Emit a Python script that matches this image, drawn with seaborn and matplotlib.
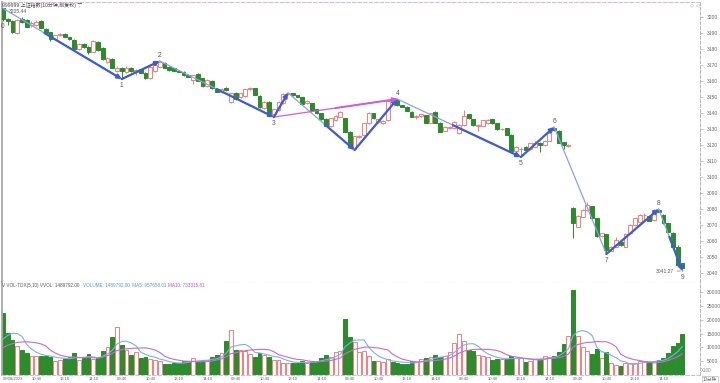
import numpy as np
import pandas as pd
import matplotlib
matplotlib.use("Agg")
import matplotlib.pyplot as plt
import seaborn as sns

# 上证指数 10分钟K线, 6个交易日, 每日24根
opens = [
    3205.4, 3198.5, 3197.7, 3190.0, 3198.5, 3198.1, 3194.8, 3194.8, 3197.7, 3192.7, 3190.4, 3186.0,
    3188.5, 3189.4, 3187.5, 3185.6, 3179.8, 3183.1, 3181.5, 3178.3, 3184.6, 3180.8, 3171.7, 3174.0,
    3166.5, 3168.1, 3165.4, 3168.0, 3165.6, 3167.3, 3165.2, 3161.6, 3166.0, 3169.0, 3171.5, 3169.0,
    3167.9, 3166.5, 3165.8, 3163.75, 3160.5, 3164.4, 3161.7, 3156.9, 3160.2, 3154.8, 3153.3, 3155.4,
    3147.1, 3152.7, 3149.8, 3150.6, 3155.0, 3155.4, 3150.6, 3143.1, 3147.1, 3139.4, 3141.9, 3146.0,
    3152.0, 3152.3, 3151.2, 3149.8, 3146.4, 3146.0, 3142.3, 3139.8, 3136.4, 3131.9, 3135.6, 3137.7,
    3136.7, 3128.3, 3117.3, 3124.8, 3126.2, 3133.5, 3139.8, 3134.6, 3133.5, 3135.6, 3148.3, 3148.1,
    3145.0, 3144.0, 3140.8, 3137.3, 3138.1, 3138.7, 3134.0, 3140.8, 3134.0, 3129.0, 3130.5, 3130.4,
    3127.3, 3132.5, 3139.2, 3136.0, 3132.1, 3132.1, 3133.5, 3136.0, 3133.5, 3129.8, 3130.4, 3126.3,
    3116.3, 3117.3, 3118.9, 3117.3, 3119.0, 3121.5, 3120.0, 3122.7, 3130.6, 3129.0, 3121.9, 3119.4,
    3080.4, 3069.0, 3075.2, 3079.4, 3081.9, 3074.2, 3063.1, 3064.4, 3053.9, 3056.5, 3059.6, 3056.5,
    3065.2, 3070.0, 3072.1, 3076.0, 3075.6, 3073.1, 3079.6, 3076.3, 3071.0, 3065.2, 3056.5, 3046.0,
]
highs = [
    3205.44, 3199.2, 3198.3, 3199.0, 3200.0, 3198.5, 3197.3, 3198.0, 3198.0, 3193.3, 3190.6, 3189.0,
    3190.2, 3189.8, 3187.8, 3186.0, 3183.5, 3183.5, 3182.0, 3185.8, 3185.0, 3181.2, 3175.2, 3174.4,
    3169.4, 3168.5, 3169.4, 3168.5, 3167.5, 3167.7, 3165.6, 3169.6, 3170.4, 3172.5, 3172.0, 3169.4,
    3168.3, 3167.0, 3166.2, 3164.2, 3164.0, 3164.8, 3162.0, 3161.0, 3160.6, 3155.2, 3155.6, 3156.2,
    3152.8, 3153.0, 3152.7, 3155.2, 3156.5, 3155.8, 3151.0, 3147.5, 3147.5, 3142.7, 3147.5, 3152.3,
    3152.6, 3152.5, 3151.5, 3150.1, 3148.2, 3146.3, 3142.6, 3140.1, 3136.7, 3137.0, 3138.5, 3141.2,
    3137.0, 3128.6, 3125.9, 3126.0, 3133.8, 3140.5, 3140.1, 3136.5, 3135.6, 3147.8, 3148.5, 3148.75,
    3145.3, 3144.3, 3141.1, 3138.5, 3139.6, 3139.0, 3140.2, 3141.1, 3134.3, 3131.9, 3131.9, 3135.0,
    3132.9, 3141.9, 3139.5, 3136.3, 3132.9, 3135.9, 3136.0, 3136.3, 3133.8, 3130.6, 3130.7, 3126.6,
    3119.3, 3118.6, 3119.4, 3121.4, 3122.5, 3121.8, 3122.9, 3127.7, 3131.25, 3129.3, 3122.2, 3120.6,
    3081.0, 3076.0, 3079.8, 3084.6, 3082.2, 3074.5, 3065.2, 3064.7, 3056.9, 3062.7, 3059.9, 3064.8,
    3070.6, 3074.6, 3076.7, 3077.3, 3075.9, 3079.8, 3080.0, 3076.6, 3071.3, 3065.5, 3057.5, 3046.3,
]
lows = [
    3197.5, 3195.0, 3190.0, 3189.5, 3196.0, 3193.5, 3194.0, 3194.3, 3193.0, 3189.5, 3185.2, 3185.5,
    3188.3, 3187.3, 3185.8, 3179.5, 3179.3, 3180.6, 3176.9, 3177.9, 3179.0, 3173.2, 3171.0, 3168.0,
    3165.4, 3161.25, 3164.8, 3165.8, 3163.7, 3164.9, 3161.4, 3161.4, 3165.6, 3168.7, 3168.0, 3166.5,
    3166.2, 3165.5, 3163.4, 3162.3, 3158.1, 3159.9, 3156.5, 3156.5, 3155.0, 3153.0, 3152.8, 3154.0,
    3146.0, 3148.2, 3149.4, 3150.2, 3154.6, 3151.0, 3143.2, 3142.7, 3139.9, 3137.5, 3141.5, 3145.6,
    3151.5, 3150.9, 3149.9, 3145.3, 3145.5, 3141.6, 3139.5, 3135.7, 3131.6, 3131.5, 3135.2, 3137.3,
    3128.0, 3119.1, 3116.9, 3124.4, 3125.8, 3133.2, 3136.4, 3134.0, 3133.0, 3135.2, 3146.8, 3144.7,
    3143.7, 3141.2, 3137.4, 3136.4, 3137.8, 3133.7, 3133.6, 3133.7, 3128.0, 3128.6, 3130.1, 3130.0,
    3126.9, 3132.1, 3136.4, 3132.2, 3129.0, 3131.7, 3133.1, 3133.2, 3129.5, 3129.4, 3126.0, 3116.0,
    3115.9, 3112.5, 3116.6, 3116.9, 3118.6, 3115.8, 3119.6, 3122.3, 3129.0, 3121.2, 3117.3, 3119.0,
    3061.7, 3068.6, 3074.8, 3079.0, 3073.9, 3062.8, 3062.7, 3051.9, 3053.5, 3056.1, 3057.2, 3056.1,
    3064.8, 3069.6, 3071.7, 3073.1, 3072.4, 3072.7, 3078.0, 3070.7, 3065.5, 3056.2, 3044.7, 3041.27,
]
closes = [
    3198.5, 3197.7, 3190.4, 3198.1, 3196.9, 3194.0, 3196.5, 3196.9, 3193.3, 3189.8, 3186.5, 3188.7,
    3189.6, 3187.5, 3186.0, 3179.8, 3183.1, 3181.0, 3178.3, 3185.0, 3179.4, 3173.5, 3174.2, 3168.3,
    3168.3, 3166.0, 3168.3, 3166.2, 3166.8, 3165.2, 3161.6, 3169.0, 3170.0, 3172.0, 3168.3, 3166.9,
    3166.5, 3165.8, 3163.75, 3162.7, 3163.5, 3160.2, 3156.9, 3160.6, 3155.4, 3153.3, 3154.8, 3154.4,
    3152.3, 3148.5, 3152.3, 3154.8, 3155.4, 3151.3, 3143.5, 3147.1, 3140.2, 3142.3, 3147.1, 3151.9,
    3152.4, 3151.2, 3150.2, 3145.6, 3147.5, 3141.9, 3139.8, 3136.0, 3131.9, 3136.7, 3138.1, 3140.8,
    3128.3, 3119.4, 3125.6, 3125.6, 3133.5, 3140.2, 3136.7, 3136.0, 3135.2, 3147.5, 3147.1, 3145.0,
    3144.0, 3141.5, 3137.7, 3138.1, 3139.2, 3134.0, 3139.8, 3134.0, 3128.3, 3131.5, 3131.5, 3134.6,
    3132.5, 3138.1, 3136.7, 3132.5, 3132.5, 3135.6, 3135.6, 3133.5, 3129.8, 3130.2, 3126.3, 3116.3,
    3118.9, 3117.3, 3116.9, 3121.0, 3121.5, 3120.0, 3122.5, 3127.3, 3129.4, 3121.5, 3120.2, 3120.2,
    3071.0, 3075.6, 3079.4, 3082.5, 3074.2, 3063.1, 3064.8, 3054.4, 3056.5, 3060.6, 3057.5, 3064.4,
    3070.2, 3074.2, 3076.3, 3076.3, 3072.7, 3079.4, 3078.3, 3071.0, 3065.8, 3056.5, 3045.0, 3043.0,
]
volumes = [
    22300, 15300, 12650, 10600, 9000, 7800, 6900, 6900, 6900, 6900, 6600, 5100,
    5400, 6000, 6400, 8000, 5400, 6000, 7600, 5700, 6000, 8700, 10200, 13900,
    17200, 10800, 9000, 7200, 8400, 6000, 6600, 5700, 5400, 5100, 4000, 3900,
    4200, 4400, 5200, 5000, 6000, 4800, 5400, 5400, 6600, 7200, 8000, 12300,
    16300, 9000, 9000, 8700, 7600, 6600, 8000, 7200, 6400, 5400, 5400, 4500,
    4200, 4200, 4500, 5200, 4500, 4800, 4800, 6300, 7200, 6600, 8400, 8700,
    20200, 13900, 12000, 8400, 8700, 7000, 5200, 5100, 4600, 5700, 4800, 4200,
    4000, 4000, 5100, 4800, 5700, 6300, 6400, 7200, 6600, 6900, 8400, 11700,
    14800, 12300, 9000, 8800, 7200, 6900, 6600, 5400, 5700, 5700, 5900, 6900,
    6000, 6000, 4800, 5100, 5700, 5700, 6900, 6600, 6900, 8400, 11100, 14100,
    30700, 14100, 10200, 8800, 7600, 9300, 6000, 8400, 4200, 3600, 3300, 4200,
    4200, 4200, 5100, 5100, 4800, 5100, 5400, 6300, 8100, 10500, 11700, 14898,
]
# 前一交易日尾盘成交量 (只用于均线, 不画柱)
prev_volumes = [6500, 7000, 6000, 7500, 7000, 8500, 9000, 11000, 14000]
time_labels = ["09/08/2023", "10:40", "13:10", "14:10"] + ["09:40", "10:40", "13:10", "14:10"] * 5

# zigzag 转折点 (K线序号)
wave_idx = [0, 25, 33, 57, 83, 109, 116, 127, 138, 143]
wave_top = [True, False, True, False, True, False, True, False, True, False]
sub_idx = [57, 60, 74, 83]  # 3-4 之间的小级别

df = pd.DataFrame({"open": opens, "high": highs, "low": lows, "close": closes, "vol": volumes})
df["i"] = np.arange(len(df))
allvol = pd.Series(prev_volumes + volumes)
df["ma5"] = allvol.rolling(5, min_periods=1).mean().iloc[len(prev_volumes):].to_numpy()
df["ma10"] = allvol.rolling(10, min_periods=1).mean().iloc[len(prev_volumes):].to_numpy()

sns.set_theme(style="white")
plt.rcParams["font.family"] = ["Liberation Sans", "Noto Sans CJK SC", "DejaVu Sans"]

RED = "#f77b7b"
GREEN = "#2a8c2a"
GREY = "#9a9a9a"
LAV = "#cbbde6"
BLUE = "#3b5bdf"
LBLUE = "#86a2f2"
MAG = "#d35ad8"

fig = plt.figure(figsize=(7.2, 3.83), dpi=100)
fig.patch.set_facecolor("white")
axp = fig.add_axes([2 / 720, 1 - 282 / 383, 698 / 720, 280 / 383])
axv = fig.add_axes([2 / 720, 1 - 375 / 383, 698 / 720, 93 / 383], sharex=axp)

up = df["close"] > df["open"]
flat = df["close"] == df["open"]
edge = np.where(flat, GREY, np.where(up, RED, GREEN))
face = np.where(up | flat, "white", GREEN)

# K线
axp.vlines(df["i"], df["low"], df["high"], colors=edge, linewidth=0.7, zorder=2)
body = (df["close"] - df["open"]).abs().clip(lower=0.15)
axp.bar(df["i"], body, bottom=df[["open", "close"]].min(axis=1), width=0.8,
        color=face, edgecolor=edge, linewidth=0.7, zorder=3)

# 成交量
axv.bar(df["i"], df["vol"], width=0.82, color=face, edgecolor=edge, linewidth=0.7, zorder=2)
sns.lineplot(x=df["i"], y=df["ma5"], ax=axv, color="#74b4ee", linewidth=0.8, zorder=3)
sns.lineplot(x=df["i"], y=df["ma10"], ax=axv, color="#c96ad2", linewidth=0.8, zorder=3)


def pivot_price(i, top):
    return highs[i] if top else lows[i]


def seg(i0, p0, i1, p1, thick_from, color_thin, color_thick):
    axp.plot([i0, i1], [p0, p1], color=color_thin, linewidth=0.9, zorder=4)
    if thick_from < 1:
        xs = i0 + (i1 - i0) * thick_from
        ys = p0 + (p1 - p0) * thick_from
        axp.annotate("", xy=(i1, p1), xytext=(xs, ys),
                     arrowprops=dict(arrowstyle="-|>", color=color_thick, lw=1.6,
                                     mutation_scale=6, shrinkA=0, shrinkB=0), zorder=5)


thick_start = [0.35, 0.0, 0.5, None, 0.45, 0.0, 1.0, 0.0, 0.45]
for k in range(len(wave_idx) - 1):
    a, b = wave_idx[k], wave_idx[k + 1]
    pa, pb = pivot_price(a, wave_top[k]), pivot_price(b, wave_top[k + 1])
    if thick_start[k] is None:
        continue
    seg(a, pa, b, pb, thick_start[k], LBLUE, BLUE)

# 3 -> 4 的小级别波段
sub_top = [False, True, False, True]
sub_thick = [0.0, 0.55, 0.0]
for k in range(3):
    a, b = sub_idx[k], sub_idx[k + 1]
    seg(a, pivot_price(a, sub_top[k]), b, pivot_price(b, sub_top[k + 1]), sub_thick[k], LBLUE, BLUE)

# 3 -> 4 紫线
axp.plot([57, 83], [lows[57], highs[83]], color=MAG, linewidth=0.9, zorder=4)
axp.annotate("", xy=(83, highs[83]), xytext=(70, (lows[57] + highs[83]) / 2),
             arrowprops=dict(arrowstyle="-|>", color=MAG, lw=1.4, mutation_scale=6,
                             shrinkA=0, shrinkB=0), zorder=5)

for n, (i, top) in enumerate(zip(wave_idx, wave_top)):
    if n == 0:
        axp.text(-0.1, 3193.8, "0", fontsize=4.8, color="#555555", ha="center", va="center")
        continue
    p = pivot_price(i, top)
    axp.text(i, p + (3.7 if top else -3.9), str(n), fontsize=4.8, color="#555555",
             ha="center", va="center", zorder=6)

axp.annotate("3205.44", xy=(0.3, 3205.44), xytext=(1.2, 3203.7), fontsize=3.6, color="#555555",
             va="center", ha="left",
             arrowprops=dict(arrowstyle="-", color="#777777", lw=0.5, shrinkA=0, shrinkB=0))
axp.annotate("3041.27", xy=(142.6, 3041.27), xytext=(141.2, 3041.27), fontsize=3.6, color="#555555",
             va="center", ha="right",
             arrowprops=dict(arrowstyle="-", color="#777777", lw=0.5, shrinkA=0, shrinkB=0))

# 坐标轴
axp.set_xlim(-0.2, 146.7)
axp.set_ylim(3034.4, 3209.4)
axv.set_ylim(0, 33620)

for ax in (axp, axv):
    ax.set_facecolor("white")
    ax.spines["left"].set_color("#a8a8a8")
    ax.spines["left"].set_linewidth(1.3)
    ax.spines["right"].set_color("#b5b5b5")
    ax.spines["right"].set_linestyle((0, (3, 2)))
    ax.spines["right"].set_linewidth(0.7)
    for s in ("top", "bottom"):
        ax.spines[s].set_color(LAV)
        ax.spines[s].set_linestyle((0, (3, 2)))
        ax.spines[s].set_linewidth(0.8)
    ax.yaxis.tick_right()
    ax.tick_params(axis="y", which="both", direction="out", length=2, width=0.5,
                   colors="#b0b0b0", labelcolor="#666666", labelsize=3.6, pad=3)
    ax.set_xlabel("")
    ax.set_ylabel("")
axv.spines["top"].set_visible(False)

axp.set_yticks(np.arange(3040, 3201, 10))
axp.tick_params(axis="x", bottom=False, labelbottom=False)
axv.set_yticks(np.arange(5000, 30001, 5000))

axv.set_xticks(np.arange(0, 144, 6))
axv.set_xticklabels(time_labels, ha="left")
axv.tick_params(axis="x", direction="out", length=1.5, width=0.5, colors="#b0b0b0",
                labelcolor="#666666", labelsize=3.0, pad=0.3)

# 文字
fig.text(2 / 720, 1 - 5 / 383, "999999 上证指数(10分钟,前复权) ▽", fontsize=3.6, color="#444444",
         va="center", ha="left")
fig.text(690 / 720, 1 - 5 / 383, "◇ ◁", fontsize=3.8, color="#999999", va="center", ha="left",
         family=["DejaVu Sans"])
fig.text(2 / 720, 1 - 285.5 / 383, "V VOL-TDX(5,10) VVOL: 1489792.00", fontsize=3.3, color="#555555",
         va="center", ha="left")
fig.text(83 / 720, 1 - 285.5 / 383, "VOLUME: 1489792.00  MA5: 957658.01", fontsize=3.3,
         color="#4a9be0", va="center", ha="left")
fig.text(168 / 720, 1 - 285.5 / 383, "MA10: 733315.81", fontsize=3.3, color="#c050c8",
         va="center", ha="left")
fig.text(701 / 720, 1 - 371 / 383, "X100", fontsize=3.3, color="#888888", va="center", ha="left")
fig.text(703 / 720, 1 - 379.5 / 383, "10分钟", fontsize=3.3, color="#666666", va="center", ha="left",
         bbox=dict(boxstyle="square,pad=0.15", fc="white", ec="#aaaaaa", lw=0.4))

fig.savefig("out.png", dpi=100)
